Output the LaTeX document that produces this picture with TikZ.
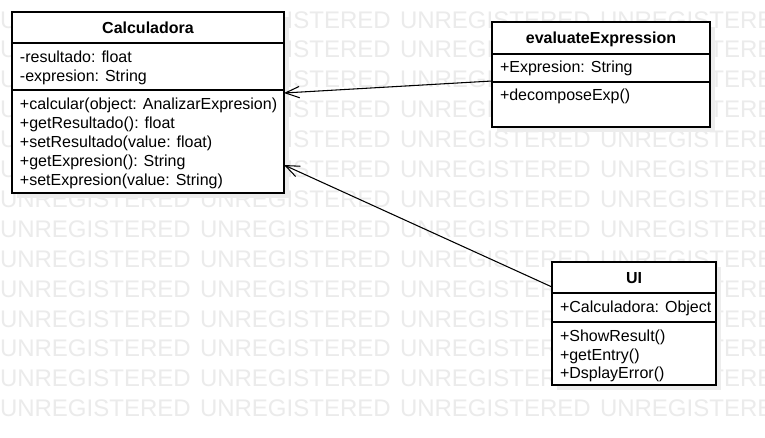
\documentclass[tikz,border=0pt]{standalone}
\usepackage{fontspec}
\setmainfont{Liberation Sans}
\usetikzlibrary{arrows.meta,shadows}
\tikzset{
  box/.style={draw=black, line width=1pt, fill=white, rectangle, inner sep=0pt, outer sep=0pt, anchor=north west,
    general shadow={shadow xshift=3.5pt, shadow yshift=-3.5pt, fill=black!7, draw=none}},
  txt/.style={inner sep=0pt, outer sep=0pt, anchor=base west, font=\fontsize{12}{14.25}\selectfont},
  ttl/.style={inner sep=0pt, outer sep=0pt, anchor=base, font=\fontsize{12}{14.25}\selectfont\bfseries},
  divider/.style={draw=black, line width=1pt},
  wm/.style={inner sep=0pt, outer sep=0pt, anchor=base west, text=black!8, font=\fontsize{18}{20}\selectfont},
  assoc/.style={draw=black, line width=0.8pt, -{Straight Barb[length=10.5pt,width=8.5pt,line width=0.8pt]}}
}
\begin{document}
\begin{tikzpicture}[x=0.75pt,y=-0.75pt]
\useasboundingbox (0,0) rectangle (765,437);
\fill[white] (0,0) rectangle (765,437);
% watermark
\begin{scope}
\clip (0,0) rectangle (765,437);
\foreach \k in {0,...,13}{
  \foreach \j in {0,...,3}{
    \node[wm] (wm-\k-\j) at (200*\j, 28+29.9*\k) {UNREGISTERED};
  }
}
\end{scope}
% Calculadora
\node[box, minimum width=204pt, minimum height=135.75pt] (calc) at (12,12) {};
\draw[divider] (12,43) -- (284,43);
\draw[divider] (12,90) -- (284,90);
\node[ttl] (calc-t) at (148,33) {Calculadora};
\node[txt] (calc-a1) at (20,62.5) {-resultado: float};
\node[txt] (calc-a2) at (20,81.5) {-expresion: String};
\node[txt] (calc-o1) at (20,109) {+calcular(object: AnalizarExpresion)};
\node[txt] (calc-o2) at (20,128.2) {+getResultado(): float};
\node[txt] (calc-o3) at (20,147.4) {+setResultado(value: float)};
\node[txt] (calc-o4) at (20,166.6) {+getExpresion(): String};
\node[txt] (calc-o5) at (20,185.8) {+setExpresion(value: String)};
% evaluateExpression
\node[box, minimum width=163.5pt, minimum height=78.75pt] (eval) at (492,22) {};
\draw[divider] (492,54) -- (710,54);
\draw[divider] (492,82) -- (710,82);
\node[ttl] (eval-t) at (601,43) {evaluateExpression};
\node[txt] (eval-a1) at (500,72) {+Expresion: String};
\node[txt] (eval-o1) at (500,100.5) {+decomposeExp()};
% UI
\node[box, minimum width=123pt, minimum height=92.25pt] (ui) at (552,262) {};
\draw[divider] (552,293) -- (716,293);
\draw[divider] (552,322) -- (716,322);
\node[ttl] (ui-t) at (634,283) {UI};
\node[txt] (ui-a1) at (560,312) {+Calculadora: Object};
\node[txt] (ui-o1) at (560,341.5) {+ShowResult()};
\node[txt] (ui-o2) at (560,360) {+getEntry()};
\node[txt] (ui-o3) at (560,378.5) {+DsplayError()};
% connectors
\coordinate (eval-out) at (492,81);
\coordinate (calc-in1) at (284,93);
\coordinate (ui-out) at (552,287);
\coordinate (calc-in2) at (284,165);
\draw[assoc] (eval-out) -- (calc-in1);
\draw[assoc] (ui-out) -- (calc-in2);
\end{tikzpicture}
\end{document}
